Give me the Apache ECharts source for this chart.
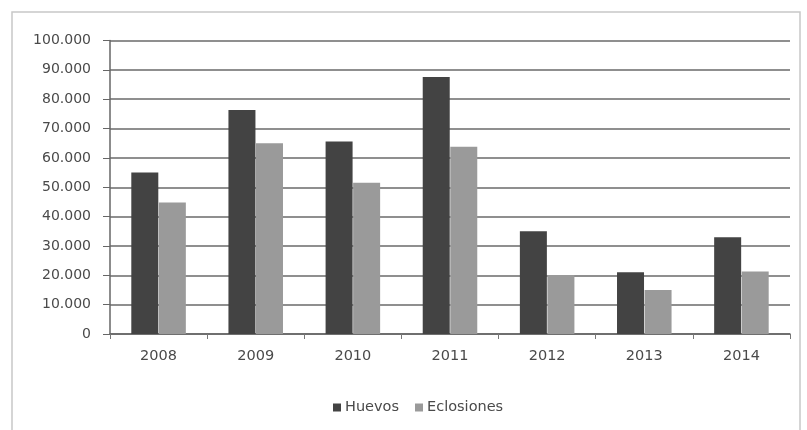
<!DOCTYPE html>
<html><head><meta charset="utf-8">
<script src="https://cdn.jsdelivr.net/npm/echarts@6/dist/echarts.min.js"></script>
<style>html,body{margin:0;padding:0;background:#fff}#c{width:807px;height:430px}</style>
</head><body><div id="c"></div>
<script>
const categories = ['2008','2009','2010','2011','2012','2013','2014'];
const huevos = [55000, 76300, 65600, 87600, 35000, 21000, 33000];
const eclosiones = [44800, 65000, 51500, 63800, 20100, 15000, 21300];
const yTicks = {min: 0, max: 100000, interval: 10000};

const chart = echarts.init(document.getElementById('c'), null, {renderer: 'canvas'});
const fmt = v => v === 0 ? '0' : (v/1000).toFixed(3);
chart.setOption({
  animation: false,
  backgroundColor: '#fff',
  graphic: [{type: 'rect', shape: {x: 12, y: 12, width: 788, height: 430}, style: {fill: 'none', stroke: '#c8c8c8', lineWidth: 1.5}, silent: true}],
  grid: {left: 110, right: 17, top: 40.5, bottom: 96, containLabel: false},
  legend: {
    data: ['Huevos', 'Eclosiones'], top: 395, left: 328,
    itemWidth: 8, itemHeight: 8, itemGap: 16, icon: 'rect',
    textStyle: {fontFamily: 'DejaVu Sans', fontSize: 14.5, color: '#4a4a4a', padding: [0,0,0,-1]}
  },
  xAxis: {
    type: 'category', data: categories,
    axisLine: {lineStyle: {color: '#666', width: 1.5}},
    axisTick: {show: true, length: 5, lineStyle: {color: '#777'}},
    axisLabel: {fontFamily: 'DejaVu Sans', fontSize: 14.5, color: '#4a4a4a', margin: 15}
  },
  yAxis: {
    type: 'value', min: yTicks.min, max: yTicks.max, interval: yTicks.interval,
    axisLine: {show: true, lineStyle: {color: '#666', width: 1.5}},
    axisTick: {show: true, length: 7, lineStyle: {color: '#666'}},
    axisLabel: {fontFamily: 'DejaVu Sans', fontSize: 14, color: '#4a4a4a', margin: 19, formatter: fmt},
    splitLine: {lineStyle: {color: '#6a6a6a', width: 1.6}}
  },
  series: [
    {name: 'Huevos', type: 'bar', data: huevos, barWidth: 27, barGap: '2%', itemStyle: {color: '#434343'}},
    {name: 'Eclosiones', type: 'bar', data: eclosiones, barWidth: 27, itemStyle: {color: '#9a9a9a'}}
  ]
});
</script></body></html>
